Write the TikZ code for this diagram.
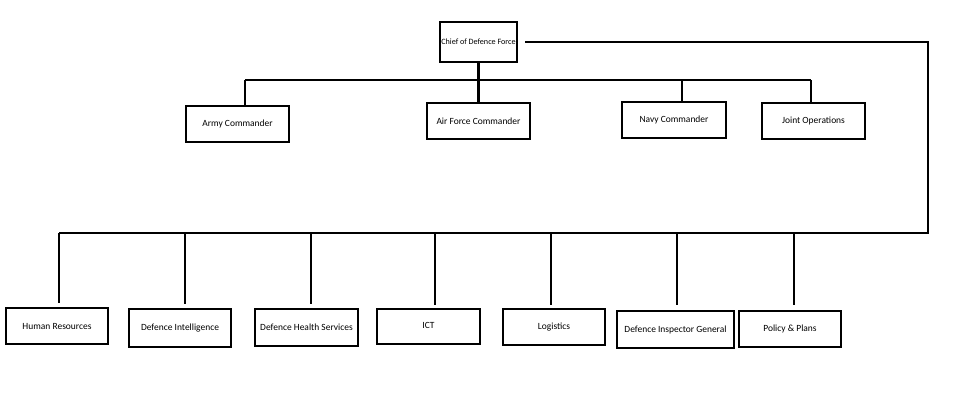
\documentclass[tikz,border=0pt]{standalone}
\usepackage{fontspec}
\setmainfont{Carlito}
\begin{document}
\begin{tikzpicture}[x=0.75pt,y=-0.75pt,
  box/.style={draw=black,line width=1.6pt,inner sep=0pt,font=\fontsize{7.1}{8.5}\selectfont},
  ln/.style={draw=black,line width=1.6pt}]
\useasboundingbox (0,0) rectangle (960,393);
\fill[white] (0,0) rectangle (960,393);
\def\bx#1#2#3#4#5#6{\node[box,minimum width=#4*0.75pt,minimum height=#5*0.75pt] (#1) at (#2,#3) {#6};}
% top level
\node[box,minimum width=77*0.75pt,minimum height=40*0.75pt,font=\fontsize{6.1}{7}\selectfont] (chief) at (478.5,42) {Chief of Defence Force};
\bx{army}{237.5}{124}{103}{36}{Army Commander}
\bx{air}{478.5}{121}{103}{36}{Air Force Commander}
\bx{navy}{674}{120}{104}{36}{\raisebox{1.5pt}{Navy Commander}}
\bx{joint}{813.5}{121}{103}{36}{Joint Operations}
% bottom level
\bx{hr}{57}{326}{102}{36}{Human Resources}
\bx{di}{180}{328}{102}{38}{Defence Intelligence}
\bx{dh}{306.5}{327.5}{103}{37}{Defence Health Services}
\bx{ict}{428.5}{326.5}{103}{35}{\raisebox{1.5pt}{ICT}}
\bx{log}{554}{327}{102}{36}{Logistics}
\bx{dig}{675.5}{329.5}{117}{37}{Defence Inspector General}
\bx{pp}{790}{329}{102}{36}{Policy \& Plans}
% coordinates
\coordinate (ta) at (245,80);
\coordinate (tn) at (682,80);
\coordinate (tj) at (811,80);
\coordinate (r1) at (525,42);
\coordinate (r2) at (928,42);
\coordinate (r3) at (928,233);
\coordinate (b1) at (59,233);
\coordinate (b2) at (185,233);
\coordinate (b3) at (311,233);
\coordinate (b4) at (435,233);
\coordinate (b5) at (551,233);
\coordinate (b6) at (677,233);
\coordinate (b7) at (794,233);
% top connectors
\draw[ln] (chief.south) -- (air.north);
\draw[ln] (ta) -- (tj);
\draw[ln] (ta) -- (ta |- army.north);
\draw[ln] (tn) -- (tn |- navy.north);
\draw[ln] (tj) -- (tj |- joint.north);
% loop to bottom
\draw[ln] (r1) -- (r2) -- (r3) -- (b1);
\draw[ln,shorten >=3pt] (b1) -- (b1 |- hr.north);
\draw[ln,shorten >=3pt] (b2) -- (b2 |- di.north);
\draw[ln,shorten >=3pt] (b3) -- (b3 |- dh.north);
\draw[ln,shorten >=2pt] (b4) -- (b4 |- ict.north);
\draw[ln,shorten >=2pt] (b5) -- (b5 |- log.north);
\draw[ln,shorten >=4pt] (b6) -- (b6 |- dig.north);
\draw[ln,shorten >=4pt] (b7) -- (b7 |- pp.north);
\end{tikzpicture}
\end{document}
